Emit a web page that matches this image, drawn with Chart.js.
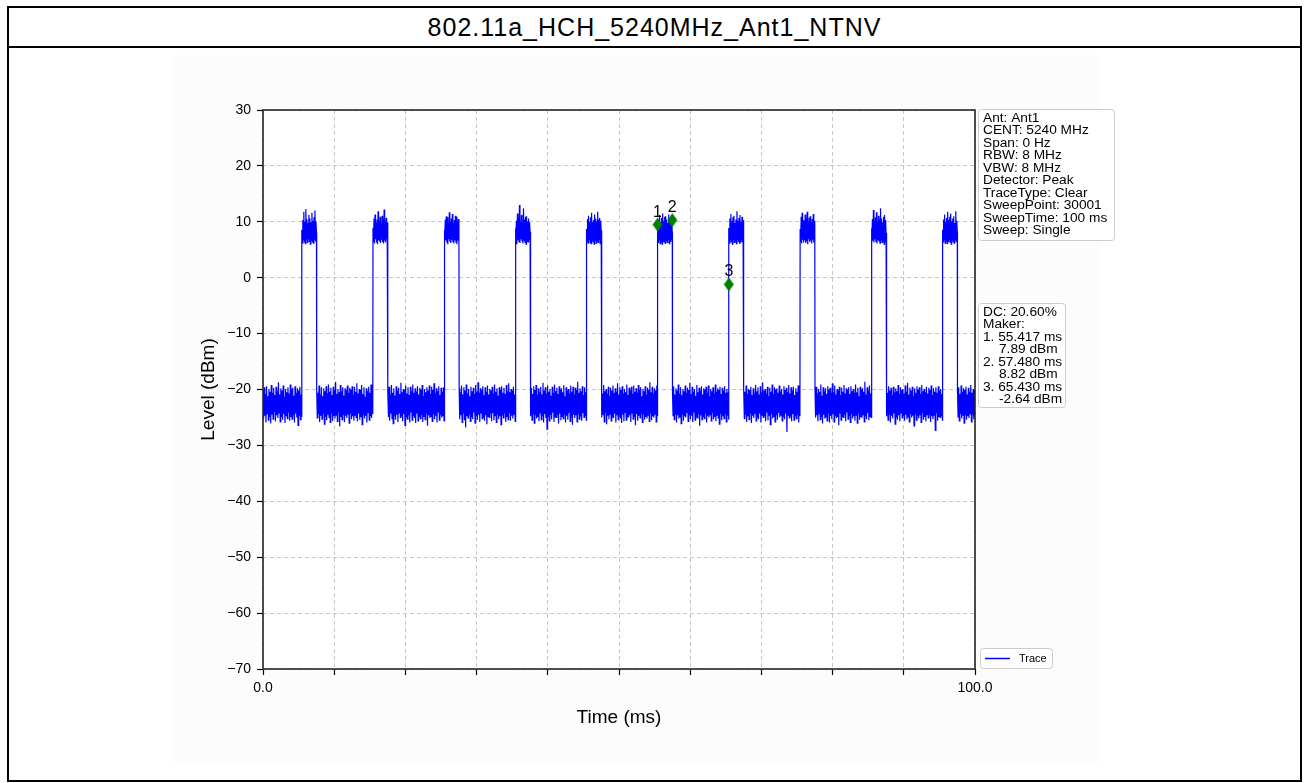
<!DOCTYPE html>
<html>
<head>
<meta charset="utf-8">
<title>802.11a_HCH_5240MHz_Ant1_NTNV</title>
<script src="https://cdn.jsdelivr.net/npm/chart.js@4.4.1/dist/chart.umd.min.js"></script>
<style>
  html, body { margin: 0; padding: 0; background: #fff; }
  #frame { position: absolute; left: 7px; top: 6px; width: 1295px; height: 776px;
           border: 2px solid #000; box-sizing: border-box; }
  #title { height: 40px; border-bottom: 2px solid #000; box-sizing: border-box;
           font: 25px "Liberation Sans", Arial, sans-serif; letter-spacing: 1px;
           text-align: center; line-height: 38px; color: #000; }
  #wrap { position: absolute; left: 9px; top: 48px; width: 1290px; height: 730px; }
</style>
</head>
<body>
<div id="frame"><div id="title">802.11a_HCH_5240MHz_Ant1_NTNV</div></div>
<div id="wrap"><canvas id="chart"></canvas></div>
<script>
// burst edges (ms)
var riseTimes = [5.45, 15.45, 25.46, 35.45, 45.44, 55.417, 65.43, 75.44, 85.45, 95.45];
var fallTimes = [7.51, 17.51, 27.52, 37.51, 47.50, 57.48, 67.49, 77.50, 87.51, 97.51];

// noise floor between bursts (dBm)
var offLevels = [
  [-20.1,-25.2,-19.6,-24.7,-20.8,-25.9,-19.4,-24.3,-21.2,-25.5,-19.9,-24.9,-20.4,-26.1,-19.2,-24.5,-20.6,-25.3,-19.7,-23.9,-21.0,-25.7,-19.5,-24.6,-20.3,-25.1,-18.7,-24.2,-20.9,-25.8,-19.8,-24.8,-20.2,-25.4,-19.3,-24.4,-21.3,-26.0,-19.9,-24.7,-20.5,-25.2,-19.6,-24.1,-20.7,-25.6,-19.1,-24.9,-20.0,-25.3,-19.7,-24.5,-21.1,-25.9,-19.4,-24.3,-20.6,-25.0,-19.8,-26.4,-20.2,-24.6,-19.5,-25.4,-20.9,-24.8],
  [-19.9,-25.1,-20.6,-24.4,-19.3,-25.8,-20.9,-24.7,-19.6,-25.3,-21.2,-24.2,-19.8,-26.2,-20.3,-24.9,-19.4,-25.5,-20.7,-24.5,-19.1,-25.0,-20.4,-25.9,-19.7,-24.3,-21.0,-25.6,-19.5,-24.8,-20.1,-25.2,-18.6,-24.6,-20.8,-25.7,-19.9,-24.1,-20.5,-26.6,-19.2,-24.9,-20.3,-25.4,-19.6,-24.4,-21.1,-25.8,-19.8,-24.7,-20.2,-25.1,-19.3,-24.5,-20.6,-26.0,-19.7,-24.2,-20.0,-25.3,-19.4,-24.8,-20.9,-25.6,-19.5,-24.6,-20.4,-25.0,-18.9,-25.7,-20.7,-24.3,-19.9,-25.4,-20.1,-24.9,-19.2,-26.3,-20.8,-24.5,-19.6,-25.2,-21.3,-24.7,-19.8,-25.9,-20.3,-24.1,-19.5,-25.5,-20.6,-24.8,-19.1,-25.1,-20.2,-24.4],
  [-20.4,-24.9,-19.5,-25.6,-20.9,-24.3,-19.2,-25.2,-20.6,-26.1,-19.8,-24.7,-21.1,-25.4,-19.4,-24.5,-20.2,-25.8,-19.7,-24.2,-20.8,-25.0,-18.8,-24.8,-20.5,-25.7,-19.9,-24.4,-20.1,-26.4,-19.3,-24.9,-20.7,-25.3,-19.6,-24.6,-21.0,-25.9,-19.5,-24.1,-20.3,-25.5,-19.1,-24.7,-20.6,-25.1,-19.8,-26.0,-20.4,-24.3,-19.4,-25.6,-20.9,-24.8,-19.7,-25.2,-20.0,-24.5,-19.2,-25.8,-21.2,-24.9,-19.9,-25.4,-20.5,-24.2,-19.6,-26.5,-20.2,-24.6,-19.3,-25.1,-20.8,-24.8,-19.5,-25.7,-20.1,-24.4,-18.9,-25.3,-20.6,-24.7,-19.8,-25.9,-20.3,-24.0,-19.4,-25.5,-21.0,-24.6,-19.7,-25.0,-20.4,-24.8,-19.6,-25.6],
  [-19.8,-25.3,-20.5,-24.6,-19.3,-25.9,-20.9,-24.2,-19.6,-25.5,-20.2,-26.8,-19.1,-24.8,-20.7,-25.1,-19.9,-24.4,-21.2,-25.7,-19.5,-24.9,-20.3,-25.3,-19.7,-24.1,-20.8,-26.0,-19.2,-24.7,-20.4,-25.4,-18.7,-24.5,-20.6,-25.8,-19.8,-24.3,-20.1,-25.2,-19.4,-24.9,-21.0,-25.6,-19.6,-24.6,-20.5,-26.2,-19.3,-24.8,-20.9,-25.0,-19.9,-24.4,-20.2,-25.7,-19.5,-24.2,-20.7,-25.5,-19.1,-24.7,-20.4,-25.9,-19.8,-24.5,-21.1,-25.3,-19.6,-24.8,-20.0,-26.3,-19.4,-24.6,-20.6,-25.1,-19.7,-24.3,-20.8,-25.8,-19.2,-24.9,-20.3,-25.4,-18.9,-24.1,-20.5,-25.6,-19.9,-24.7,-20.2,-25.2,-19.5,-24.4,-20.9,-25.7],
  [-20.3,-24.8,-19.7,-25.5,-20.8,-24.3,-19.4,-26.0,-20.1,-24.6,-19.2,-25.2,-21.0,-24.9,-19.8,-25.7,-20.5,-24.2,-19.5,-25.4,-20.9,-24.7,-18.8,-25.9,-20.2,-24.4,-19.6,-25.1,-20.7,-27.1,-19.3,-24.8,-20.4,-25.6,-19.9,-24.5,-21.1,-25.3,-19.5,-24.1,-20.6,-25.8,-19.1,-24.9,-20.3,-25.0,-19.7,-24.6,-20.8,-26.1,-19.4,-24.3,-20.0,-25.5,-19.8,-24.8,-20.5,-25.2,-19.2,-24.4,-21.2,-25.9,-19.6,-24.7,-20.2,-25.4,-19.9,-24.2,-20.7,-25.7,-19.3,-24.9,-20.4,-26.3,-19.5,-24.5,-20.9,-25.1,-19.7,-24.6,-20.1,-25.8,-18.6,-24.3,-20.6,-25.3,-19.8,-24.8,-20.3,-25.6,-19.4,-24.2,-21.0,-25.0,-19.6,-24.7,-20.5,-25.5],
  [-19.6,-25.0,-20.7,-24.5,-19.2,-25.8,-20.3,-24.2,-19.9,-26.2,-20.8,-24.7,-19.5,-25.3,-21.1,-24.4,-19.7,-25.6,-20.2,-24.9,-19.3,-25.1,-20.6,-24.3,-19.8,-25.9,-20.4,-24.6,-18.9,-25.4,-20.9,-24.8,-19.6,-25.2,-20.1,-26.0,-19.4,-24.5,-20.7,-25.7,-19.9,-24.1,-20.5,-25.5,-19.1,-24.9,-21.0,-25.0,-19.7,-24.6,-20.2,-25.8,-19.5,-24.3,-20.8,-25.3,-19.3,-24.8,-20.4,-26.4,-19.8,-24.4,-20.6,-25.6,-19.2,-24.7,-20.0,-25.1,-19.6,-24.2,-21.2,-25.9,-19.9,-24.5,-20.3,-25.4,-19.4,-24.9,-20.9,-25.2,-19.7,-24.6,-20.1,-25.7,-18.7,-24.3,-20.5,-25.5,-19.5,-24.8,-20.7,-25.0,-19.8,-24.4,-20.2,-25.8,-19.3,-24.7],
  [-20.5,-24.7,-19.4,-25.4,-20.9,-24.3,-19.8,-25.9,-20.2,-24.6,-19.1,-25.2,-20.7,-24.9,-19.6,-26.1,-21.0,-24.4,-19.9,-25.6,-20.3,-24.8,-19.3,-25.0,-20.6,-24.2,-19.7,-25.7,-20.1,-24.5,-18.8,-25.3,-20.8,-24.7,-19.5,-25.8,-20.4,-24.1,-19.9,-25.5,-21.1,-24.9,-19.2,-25.1,-20.5,-24.4,-19.7,-26.5,-20.2,-24.6,-19.4,-25.4,-20.9,-24.8,-19.8,-25.2,-20.0,-24.3,-19.5,-25.9,-20.6,-24.7,-19.3,-25.0,-21.2,-24.5,-19.9,-25.6,-20.3,-24.2,-19.6,-25.3,-20.7,-24.9,-19.1,-25.7,-20.4,-24.6,-19.8,-25.1,-20.1,-26.2,-19.5,-24.4,-20.8,-25.5,-19.7,-24.8,-20.2,-25.2,-19.4,-24.3,-20.6,-25.8,-19.9,-24.7,-20.5,-25.4],
  [-19.7,-25.2,-20.4,-24.5,-19.3,-25.8,-20.8,-24.8,-19.9,-25.4,-20.1,-24.2,-19.5,-26.0,-21.0,-24.7,-19.8,-25.1,-20.6,-24.4,-19.2,-25.6,-20.3,-24.9,-19.6,-25.3,-20.9,-24.3,-19.4,-25.9,-20.5,-24.6,-18.7,-25.0,-20.2,-24.8,-19.9,-25.7,-20.7,-24.1,-19.5,-25.5,-21.2,-24.6,-19.7,-26.3,-20.4,-24.4,-19.1,-25.2,-20.8,-24.9,-19.6,-25.8,-20.0,-24.5,-19.8,-25.4,-20.6,-24.2,-19.3,-25.0,-20.3,-24.7,-19.9,-25.6,-20.9,-24.8,-19.4,-25.3,-20.1,-24.3,-19.7,-27.6,-20.5,-24.6,-19.2,-25.1,-20.7,-24.9,-19.6,-25.7,-20.2,-24.4,-19.5,-25.5,-21.0,-24.7,-19.8,-25.2,-20.4,-24.5,-19.3,-25.9,-20.6,-24.8],
  [-20.2,-25.0,-19.5,-24.6,-20.7,-25.7,-19.9,-24.3,-20.4,-25.4,-19.1,-24.8,-21.1,-26.1,-19.6,-24.5,-20.3,-25.2,-19.8,-24.9,-20.8,-25.6,-19.4,-24.2,-20.0,-25.9,-19.7,-24.7,-20.6,-25.3,-18.9,-24.4,-20.5,-25.8,-19.3,-24.6,-20.9,-25.1,-19.9,-24.9,-20.2,-26.4,-19.5,-24.3,-21.0,-25.5,-19.7,-24.8,-20.4,-25.0,-19.2,-24.5,-20.7,-25.7,-19.8,-24.1,-20.1,-25.3,-19.6,-24.7,-20.8,-25.9,-19.4,-24.4,-20.3,-25.2,-19.9,-24.8,-20.6,-25.6,-19.1,-24.6,-20.5,-26.0,-19.7,-24.3,-21.2,-25.4,-19.5,-24.9,-20.0,-25.1,-19.8,-24.5,-20.4,-25.8,-18.6,-24.7,-20.9,-25.3,-19.6,-24.2,-20.2,-25.5,-19.3,-24.8,-20.7,-25.0],
  [-19.9,-24.8,-20.6,-25.5,-19.4,-24.4,-20.2,-25.9,-19.7,-24.7,-21.0,-25.2,-19.5,-24.3,-20.5,-26.2,-19.8,-24.9,-20.3,-25.4,-19.2,-24.6,-20.8,-25.7,-19.6,-24.2,-20.1,-25.1,-19.9,-24.8,-20.7,-25.6,-19.3,-24.5,-20.4,-25.3,-18.8,-24.9,-20.9,-25.8,-19.7,-24.4,-20.2,-25.0,-19.5,-24.7,-21.1,-26.5,-19.8,-24.3,-20.6,-25.5,-19.4,-24.8,-20.0,-25.2,-19.6,-24.6,-20.8,-25.9,-19.2,-24.1,-20.3,-25.4,-19.9,-24.9,-20.5,-25.7,-19.5,-24.5,-20.7,-25.1,-19.7,-24.4,-20.1,-25.8,-19.3,-24.8,-21.0,-25.3,-19.8,-24.6,-20.4,-27.3,-19.6,-24.2,-20.6,-25.6,-19.4,-24.9,-20.2,-25.0,-19.9,-24.7,-20.8,-25.5],
  [-20.3,-24.9,-19.6,-25.6,-20.8,-24.4,-19.3,-25.2,-20.5,-24.7,-19.8,-26.0,-20.1,-24.5,-19.5,-25.4,-20.9,-24.8,-19.7,-25.1,-20.4,-24.3,-19.2,-25.8,-20.6,-24.6,-19.9,-25.3,-20.2,-24.9]
];

// burst level while transmitting (dBm)
var onLevels = [
  [8.6,6.2,10.3,6.8,11.8,6.4,10.0,6.1,12.3,6.9,10.5,6.3,9.8,7.0,11.2,6.5,10.6,6.0,9.9,6.7,11.6,6.4,10.2,6.2,10.8,6.9,12.0,6.6,10.1,8.1],
  [8.9,6.4,10.6,6.1,11.3,6.9,9.8,6.3,10.4,6.0,11.9,6.7,10.2,6.5,10.9,6.2,9.7,6.8,11.1,6.4,10.5,6.1,12.2,6.6,10.0,6.3,10.7,6.9,9.9,8.3],
  [8.5,6.1,10.4,6.7,11.0,6.3,10.8,6.0,9.9,6.9,11.7,6.5,10.1,6.2,10.6,6.8,11.4,6.4,9.8,6.1,10.3,6.7,11.1,6.3,10.9,6.0,10.2,6.6,10.5,8.0],
  [8.8,6.3,10.2,6.0,11.5,6.8,10.7,6.4,13.0,6.2,10.0,6.9,11.2,6.5,9.8,6.1,12.4,6.7,10.4,6.3,10.9,6.0,11.0,6.6,10.1,6.4,10.6,6.8,9.9,8.2],
  [8.7,6.5,10.5,6.2,11.1,6.9,10.0,6.3,10.8,6.1,11.6,6.7,9.9,6.4,10.3,6.0,11.3,6.8,10.6,6.2,10.1,6.6,11.8,6.3,10.4,6.9,10.7,6.1,10.2,8.4],
  [8.6,6.3,10.3,6.8,11.2,6.1,9.9,6.5,10.7,6.0,11.5,6.6,10.2,6.4,10.9,6.2,11.0,6.7,10.4,6.3,9.8,6.9,11.3,6.1,10.6,6.5,10.1,6.8,10.5,8.1],
  [8.9,6.2,10.6,6.7,11.4,6.4,10.1,6.0,10.8,6.9,11.1,6.3,9.8,6.6,10.4,6.1,11.9,6.8,10.2,6.5,10.7,6.2,11.2,6.4,10.0,6.7,10.9,6.3,10.3,8.0],
  [8.7,6.4,10.9,6.1,11.6,6.8,10.3,6.3,10.0,6.7,11.3,6.2,10.6,6.5,11.8,6.0,10.1,6.9,10.7,6.4,11.0,6.6,9.9,6.1,10.5,6.8,11.4,6.3,10.2,8.2],
  [8.8,6.0,10.5,6.6,12.1,6.3,10.2,6.9,10.8,6.4,11.7,6.1,10.0,6.7,11.1,6.5,10.4,6.2,12.4,6.8,10.6,6.3,9.9,6.6,10.9,6.0,11.2,6.4,10.3,8.0],
  [8.6,6.4,10.4,6.9,11.3,6.2,10.0,6.6,10.7,6.1,11.8,6.5,10.3,6.8,10.9,6.3,11.5,6.0,10.1,6.7,10.6,6.4,11.0,6.2,9.8,6.9,11.9,6.5,10.2,8.3]
];

// markers as drawn on the plot
var markerTimes = [55.417, 57.48, 65.43];
var markerLevels = [9.5, 10.3, -1.2];
var markerNames = ['1', '2', '3'];

var infoLines = ['Ant: Ant1', 'CENT: 5240 MHz', 'Span: 0 Hz', 'RBW: 8 MHz', 'VBW: 8 MHz',
  'Detector: Peak', 'TraceType: Clear', 'SweepPoint: 30001', 'SweepTime: 100 ms', 'Sweep: Single'];
var markerLines = [['DC: 20.60%', 0], ['Maker:', 0], ['1. 55.417 ms', 0], ['7.89 dBm', 1],
  ['2. 57.480 ms', 0], ['8.82 dBm', 1], ['3. 65.430 ms', 0], ['-2.64 dBm', 1]];

var xLabelTicks = [0, 100];
var yMin = -70, yMax = 30;

var FONT = '"Liberation Sans", Arial, sans-serif';

// build the trace: samples of each segment spread across that segment
var trace = [];
function addSegment(values, t0, t1) {
  var n = values.length;
  for (var j = 0; j < n; j++) {
    trace.push({ x: t0 + (t1 - t0) * j / (n - 1), y: values[j] });
  }
}
for (var i = 0; i < offLevels.length; i++) {
  var start = i === 0 ? 0 : fallTimes[i - 1] + 0.03;
  var end = i === riseTimes.length ? 100 : riseTimes[i] - 0.03;
  addSegment(offLevels[i], start, end);
  if (i < riseTimes.length) addSegment(onLevels[i], riseTimes[i], fallTimes[i]);
}

var markerPoints = markerTimes.map(function (t, k) { return { x: t, y: markerLevels[k] }; });

function diamond(color) {
  var c = document.createElement('canvas');
  c.width = 11; c.height = 15;
  var g = c.getContext('2d');
  g.fillStyle = color;
  g.beginPath();
  g.moveTo(5.5, 0.5); g.lineTo(10.5, 7.5); g.lineTo(5.5, 14.5); g.lineTo(0.5, 7.5);
  g.closePath(); g.fill();
  return c;
}

function textBox(c, x, y, w, h) {
  c.save();
  c.fillStyle = 'rgba(255,255,255,0.85)';
  c.strokeStyle = '#cccccc';
  c.lineWidth = 1;
  c.beginPath();
  c.roundRect(x + 0.5, y + 0.5, w, h, 3);
  c.fill(); c.stroke();
  c.restore();
}

var decorations = {
  id: 'decorations',
  beforeDraw: function (chart) {
    var c = chart.ctx, a = chart.chartArea;
    c.save();
    c.fillStyle = '#fcfcfc';
    c.fillRect(163, 7, 928, 707);
    c.fillStyle = '#ffffff';
    c.fillRect(a.left, a.top, a.right - a.left, a.bottom - a.top);
    c.restore();
  },
  afterDatasetsDraw: function (chart) {
    var c = chart.ctx, xs = chart.scales.x, ys = chart.scales.y;
    c.save();
    c.fillStyle = '#000';
    c.font = '16px ' + FONT;
    c.textAlign = 'center';
    c.textBaseline = 'alphabetic';
    for (var k = 0; k < markerTimes.length; k++) {
      c.fillText(markerNames[k], xs.getPixelForValue(markerTimes[k]), ys.getPixelForValue(markerLevels[k]) - 8);
    }
    c.restore();
  },
  afterDraw: function (chart) {
    var c = chart.ctx, a = chart.chartArea;
    // axes frame
    c.save();
    c.strokeStyle = '#262626';
    c.lineWidth = 1.6;
    c.strokeRect(a.left, a.top, a.right - a.left, a.bottom - a.top);
    c.restore();

    var bx = a.right + 3;
    var lh = 12.45;
    c.save();
    c.font = '13.7px ' + FONT;
    c.fillStyle = '#000';
    c.textAlign = 'left';
    c.textBaseline = 'alphabetic';

    // settings box
    textBox(c, bx, a.top - 1, 136, 131);
    infoLines.forEach(function (s, k) { c.fillText(s, bx + 5, a.top + 12 + k * lh); });

    // duty cycle / marker box
    var top2 = a.top + 193;
    textBox(c, bx, top2, 87, 104);
    markerLines.forEach(function (m, k) {
      c.fillText(m[0], bx + (m[1] ? 21 : 5), top2 + 13 + k * lh);
    });

    // legend
    var lt = a.bottom - 21;
    textBox(c, bx + 2, lt, 72, 20);
    c.strokeStyle = '#0000ff';
    c.lineWidth = 1.5;
    c.beginPath();
    c.moveTo(bx + 7, lt + 10.5); c.lineTo(bx + 32, lt + 10.5);
    c.stroke();
    c.font = '11px ' + FONT;
    c.textBaseline = 'middle';
    c.fillText('Trace', bx + 41, lt + 11);
    c.restore();
  }
};

var ctx = document.getElementById('chart');

var config = {
  type: 'line',
  data: {
    datasets: [
      {
        label: 'Marker',
        data: markerPoints,
        showLine: false,
        pointStyle: diamond('#008000'),
        pointRadius: 7,
        order: 0
      },
      {
        label: 'Trace',
        data: trace,
        borderColor: '#0000ff',
        borderWidth: 1.2,
        pointRadius: 0,
        tension: 0,
        fill: false,
        order: 1
      }
    ]
  },
  options: {
    responsive: true,
    maintainAspectRatio: false,
    animation: false,
    events: [],
    layout: { padding: { left: 154, right: 324, top: 62, bottom: 39 } },
    plugins: {
      legend: { display: false },
      tooltip: { enabled: false }
    },
    scales: {
      x: {
        type: 'linear',
        min: 0,
        max: 100,
        afterFit: function (scale) { scale.height = 70; },
        border: { display: false, dash: [4, 3] },
        grid: {
          color: '#b8b8b8',
          lineWidth: 0.8,
          tickLength: 6,
          tickColor: '#000',
          tickWidth: 1.2,
          tickBorderDash: []
        },
        ticks: {
          stepSize: 10,
          autoSkip: false,
          maxRotation: 0,
          padding: 5,
          color: '#000',
          font: { family: FONT, size: 14 },
          callback: function (v) { return xLabelTicks.indexOf(v) >= 0 ? v.toFixed(1) : ''; }
        },
        title: {
          display: true,
          text: 'Time (ms)',
          color: '#000',
          font: { family: FONT, size: 19 },
          padding: { top: 0, bottom: 10 }
        }
      },
      y: {
        min: yMin,
        max: yMax,
        afterFit: function (scale) { scale.width = 100; },
        border: { display: false, dash: [4, 3] },
        grid: {
          color: '#b8b8b8',
          lineWidth: 0.8,
          tickLength: 6,
          tickColor: '#000',
          tickWidth: 1.2,
          tickBorderDash: []
        },
        ticks: {
          stepSize: 10,
          padding: 6,
          color: '#000',
          font: { family: FONT, size: 14 },
          callback: function (v) { return v < 0 ? '\u2212' + Math.abs(v) : String(v); }
        },
        title: {
          display: true,
          text: 'Level (dBm)',
          color: '#000',
          font: { family: FONT, size: 19 },
          padding: { top: 34, bottom: 0 }
        }
      }
    }
  },
  plugins: [decorations]
};

var chart = new Chart(ctx, config);
</script>
</body>
</html>
